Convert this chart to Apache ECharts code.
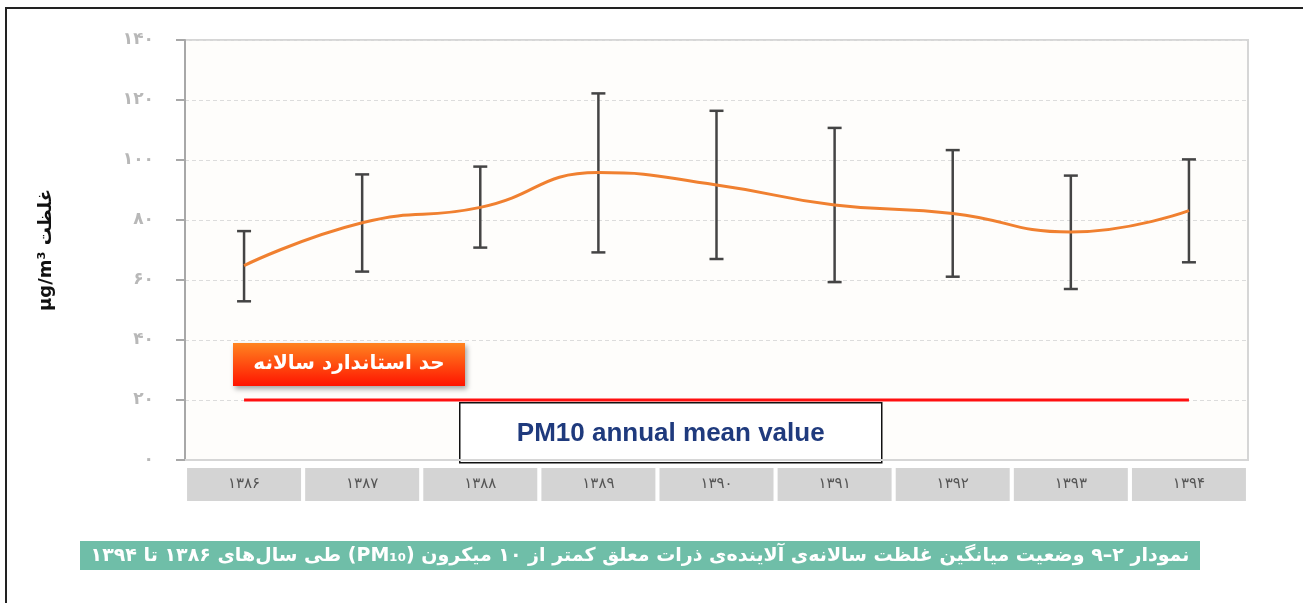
<!DOCTYPE html>
<html>
<head>
<meta charset="utf-8">
<script src="https://cdn.jsdelivr.net/npm/echarts@6/dist/echarts.min.js"></script>
<style>
html,body{margin:0;padding:0;background:#fff;}
#main{width:1303px;height:603px;}
</style>
</head>
<body>
<div id="main"></div>
<script>
// سال ها (محور افقی)
var years = ['۱۳۸۶', '۱۳۸۷', '۱۳۸۸', '۱۳۸۹', '۱۳۹۰', '۱۳۹۱', '۱۳۹۲', '۱۳۹۳', '۱۳۹۴'];
// میانگین سالانه
var meanValues = [64.8, 79.1, 84.2, 95.8, 91.7, 85, 82.2, 76, 83.1];
// حد پایین و بالای خطا
var lowValues = [52.9, 62.8, 70.8, 69.2, 67, 59.3, 61.1, 57, 65.9];
var highValues = [76.3, 95.2, 97.8, 122.2, 116.4, 110.7, 103.3, 94.8, 100.2];
// حد استاندارد سالانه
var stdLimit = [20, 20, 20, 20, 20, 20, 20, 20, 20];
// برچسب های محور عمودی
var yTickLabels = ['۰', '۲۰', '۴۰', '۶۰', '۸۰', '۱۰۰', '۱۲۰', '۱۴۰'];

var errData = [];
for (var i = 0; i < years.length; i++) {
    errData.push([i, lowValues[i], highValues[i]]);
}

var myChart = echarts.init(document.getElementById('main'));

var option = {
    backgroundColor: '#ffffff',
    animation: false,
    grid: {
        left: 185,
        right: 55,
        top: 40,
        bottom: 143,
        show: true,
        backgroundColor: '#fefdfb',
        borderColor: '#d6d6d6',
        borderWidth: 2
    },
    xAxis: {
        type: 'category',
        data: years,
        axisLine: {lineStyle: {color: '#d6d6d6', width: 2}},
        axisTick: {show: false},
        axisLabel: {
            margin: 8,
            color: '#555',
            fontSize: 15,
            fontFamily: 'DejaVu Sans',
            backgroundColor: '#d4d4d4',
            width: 114,
            height: 33,
            lineHeight: 33,
            align: 'center'
        }
    },
    yAxis: {
        type: 'value',
        min: 0,
        max: 140,
        interval: 20,
        name: 'µg/m³ غلظت',
        nameLocation: 'middle',
        nameRotate: 90,
        nameGap: 130,
        nameTextStyle: {color: '#111', fontSize: 18, fontWeight: 'bold', fontFamily: 'DejaVu Sans'},
        axisLine: {show: true, lineStyle: {color: '#a8a8a8', width: 2}},
        axisTick: {show: true, inside: false, length: 9, lineStyle: {color: '#a8a8a8', width: 2}},
        axisLabel: {
            margin: 31,
            color: '#b8b8b8',
            fontSize: 17,
            fontWeight: 'bold',
            fontFamily: 'DejaVu Sans',
            formatter: function (v) { return yTickLabels[Math.round(v / 20)]; }
        },
        splitLine: {lineStyle: {color: '#dcdcdc', type: [4, 3], width: 1}}
    },
    series: [
        {
            name: 'std',
            type: 'line',
            data: stdLimit,
            symbol: 'none',
            lineStyle: {color: '#ff1010', width: 3},
            z: 3
        },
        {
            name: 'err',
            type: 'custom',
            data: errData,
            encode: {x: 0, y: [1, 2]},
            renderItem: function (params, api) {
                var x = api.value(0);
                var lo = api.coord([x, api.value(1)]);
                var hi = api.coord([x, api.value(2)]);
                var hw = 7;
                var st = {stroke: '#444', lineWidth: 2.5};
                return {
                    type: 'group',
                    children: [
                        {type: 'line', shape: {x1: lo[0], y1: lo[1], x2: hi[0], y2: hi[1]}, style: st},
                        {type: 'line', shape: {x1: hi[0] - hw, y1: hi[1], x2: hi[0] + hw, y2: hi[1]}, style: st},
                        {type: 'line', shape: {x1: lo[0] - hw, y1: lo[1], x2: lo[0] + hw, y2: lo[1]}, style: st}
                    ]
                };
            },
            z: 4
        },
        {
            name: 'mean',
            type: 'line',
            data: meanValues,
            smooth: true,
            symbol: 'none',
            lineStyle: {color: '#f08030', width: 3},
            z: 5
        }
    ],
    graphic: [
        //قاب دور تصویر
        {
            type: 'rect',
            shape: {x: 6, y: 8, width: 1400, height: 700},
            style: {fill: 'none', stroke: '#222', lineWidth: 2},
            silent: true,
            z: 100
        },
        //برچسب حد استاندارد
        {
            type: 'group',
            left: 233,
            top: 343,
            z: 100,
            children: [
                {
                    type: 'rect',
                    shape: {x: 0, y: 0, width: 232, height: 43},
                    style: {
                        fill: new echarts.graphic.LinearGradient(0, 0, 0, 1, [
                            {offset: 0, color: '#ff8420'},
                            {offset: 1, color: '#ff1400'}
                        ]),
                        shadowBlur: 5,
                        shadowOffsetX: 2,
                        shadowOffsetY: 3,
                        shadowColor: 'rgba(0,0,0,0.35)'
                    }
                },
                {
                    type: 'text',
                    x: 116,
                    y: 21,
                    style: {
                        text: 'حد استاندارد سالانه',
                        fill: '#fff',
                        font: 'bold 20px "DejaVu Sans"',
                        align: 'center',
                        verticalAlign: 'middle'
                    }
                }
            ]
        },
        //کادر متن انگلیسی
        {
            type: 'group',
            left: 459,
            top: 402,
            z: 100,
            children: [
                {
                    type: 'rect',
                    shape: {x: 0, y: 0, width: 422, height: 60},
                    style: {fill: '#fff', stroke: '#111', lineWidth: 1.5}
                },
                {
                    type: 'text',
                    x: 211,
                    y: 31,
                    style: {
                        text: 'PM10 annual mean value',
                        fill: '#1f3a7d',
                        font: 'bold 26px "Liberation Sans", Arial',
                        align: 'center',
                        verticalAlign: 'middle'
                    }
                }
            ]
        },
        //زیرنویس نمودار
        {
            type: 'group',
            left: 80,
            top: 541,
            z: 100,
            children: [
                {
                    type: 'rect',
                    shape: {x: 0, y: 0, width: 1120, height: 29},
                    style: {fill: '#6fbea8'}
                },
                {
                    type: 'text',
                    x: 560,
                    y: 15,
                    style: {
                        text: '\u202Bنمودار ۲–۹ وضعیت میانگین غلظت سالانه‌ی آلاینده‌ی ذرات معلق کمتر از ۱۰ میکرون (PM₁₀) طی سال‌های ۱۳۸۶ تا ۱۳۹۴\u202C',
                        fill: '#fff',
                        font: 'bold 19px "DejaVu Sans"',
                        align: 'center',
                        verticalAlign: 'middle'
                    }
                }
            ]
        }
    ]
};

myChart.setOption(option);
</script>
</body>
</html>
